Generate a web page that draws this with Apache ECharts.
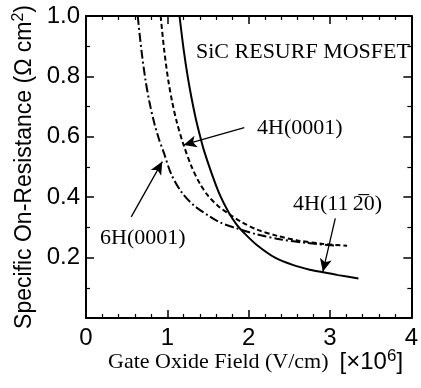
<!DOCTYPE html>
<html>
<head>
<meta charset="utf-8">
<script src="https://cdn.jsdelivr.net/npm/echarts@6/dist/echarts.min.js"></script>
<style>
html,body{margin:0;padding:0;background:#fff;}
#chart{width:421px;height:388px;}
</style>
</head>
<body>
<div id="chart"></div>
<script>
// gate oxide field [x1e6 V/cm] vs specific on-resistance [ohm cm2]
var field4H1120 = [1.15,1.20,1.25,1.30,1.35,1.40,1.45,1.55,1.65,1.75,1.85,1.95,2.10,2.33,2.55,2.75,2.90,3.10,3.35];
var ron4H1120   = [1.00,0.89,0.80,0.725,0.66,0.605,0.555,0.475,0.405,0.352,0.31,0.28,0.242,0.199,0.175,0.16,0.152,0.142,0.131];

var field4H0001 = [0.918,0.96,1.01,1.06,1.12,1.20,1.30,1.40,1.50,1.62,1.75,1.90,2.10,2.35,2.60,2.90,3.21];
var ron4H0001   = [1.00,0.89,0.79,0.715,0.645,0.573,0.50,0.445,0.405,0.372,0.346,0.32,0.293,0.272,0.257,0.246,0.239];

var field6H0001 = [0.636,0.68,0.73,0.78,0.84,0.90,0.96,1.05,1.18,1.33,1.50,1.65,1.85,2.10,2.40,2.70,3.05];
var ron6H0001   = [1.00,0.89,0.79,0.715,0.645,0.59,0.545,0.475,0.415,0.372,0.34,0.316,0.297,0.277,0.26,0.249,0.240];

var xTickLabels = ['0','1','2','3','4'];
var yTickLabels = ['','0.2','0.4','0.6','0.8','1.0'];

function pairs(xs,ys){
    var out = [];
    for(var i=0;i<xs.length;i++){ out.push([xs[i],ys[i]]); }
    return out;
}

var serif = '"Liberation Serif","DejaVu Serif",serif';
var sans  = '"Liberation Sans",Arial,sans-serif';

var axisBase = function(pos,showLabel,isX){
    return {
        type:'value',
        position:pos,
        min:0,
        max:isX ? 4 : 1,
        interval:isX ? 1 : 0.2,
        axisLine:{show:true,onZero:false,lineStyle:{color:'#000',width:2}},
        axisTick:{show:true,inside:true,length:8,lineStyle:{color:'#000',width:1.5}},
        minorTick:{show:true,splitNumber:isX ? 5 : 2,length:4,lineStyle:{color:'#000',width:1.2}},
        splitLine:{show:false},
        minorSplitLine:{show:false},
        axisLabel:{
            show:showLabel,
            color:'#000',
            fontSize:24,
            fontFamily:sans,
            margin:isX ? 8 : 6,
            formatter:function(v){
                if(isX){ return xTickLabels[Math.round(v)]; }
                return yTickLabels[Math.round(v*5)];
            }
        }
    };
};

var xBottom = axisBase('bottom',true,true);
var xTop    = axisBase('top',false,true);
var yLeft   = axisBase('left',true,false);
var yRight  = axisBase('right',false,false);

yLeft.name = '{a|Specific On-Resistance (\u03A9 cm}{s|2}{a|)}';
yLeft.nameLocation = 'middle';
yLeft.nameGap = 46;
yLeft.nameTextStyle = {
    rich:{
        a:{fontSize:23,fontFamily:sans,color:'#000'},
        s:{fontSize:16,fontFamily:sans,color:'#000',padding:[0,0,12,0]}
    }
};

var arrowStyle = {color:'#000',width:1.3,type:'solid'};

var chart = echarts.init(document.getElementById('chart'));
var option = {
    animation:false,
    grid:{left:86,right:4,top:16,bottom:70,containLabel:false},
    xAxis:[xBottom,xTop],
    yAxis:[yLeft,yRight],
    series:[
        {
            name:'4H(11-20)',
            type:'line',
            data:pairs(field4H1120,ron4H1120),
            smooth:0.3,
            showSymbol:false,
            lineStyle:{color:'#000',width:2,type:'solid'},
            markLine:{
                silent:true,
                symbol:['none','arrow'],
                symbolSize:[9,13],
                label:{show:false},
                lineStyle:arrowStyle,
                data:[
                    [{coord:[1.946,0.630]},{coord:[1.20,0.573]}],
                    [{coord:[0.556,0.335]},{coord:[0.938,0.518]}],
                    [{coord:[3.065,0.330]},{coord:[2.912,0.153]}]
                ]
            }
        },
        {
            name:'4H(0001)',
            type:'line',
            data:pairs(field4H0001,ron4H0001),
            smooth:0.3,
            showSymbol:false,
            lineStyle:{color:'#000',width:2,type:[5,3]}
        },
        {
            name:'6H(0001)',
            type:'line',
            data:pairs(field6H0001,ron6H0001),
            smooth:0.3,
            showSymbol:false,
            lineStyle:{color:'#000',width:2,type:[9,3,2,3]}
        }
    ],
    graphic:[
        {type:'text',x:196,y:52,style:{text:'SiC RESURF MOSFET',fontSize:22,fontFamily:serif,fill:'#000',verticalAlign:'middle'}},
        {type:'text',x:257,y:128,style:{text:'4H(0001)',fontSize:22,fontFamily:serif,fill:'#000',verticalAlign:'middle'}},
        {type:'text',x:293,y:204,style:{text:'4H(11\u20092\u03050)',fontSize:22,fontFamily:serif,fill:'#000',verticalAlign:'middle'}},
        {type:'text',x:100,y:238,style:{text:'6H(0001)',fontSize:22,fontFamily:serif,fill:'#000',verticalAlign:'middle'}},
        {type:'text',x:108,y:362,style:{
            text:'{a|Gate Oxide Field (V/cm)  }{b|[\u00D710}{s|6}{b|]}',
            verticalAlign:'middle',
            rich:{
                a:{fontSize:22,fontFamily:serif,fill:'#000'},
                b:{fontSize:24,fontFamily:sans,fill:'#000'},
                s:{fontSize:17,fontFamily:sans,fill:'#000',padding:[0,0,12,0]}
            }
        }}
    ]
};
chart.setOption(option);
</script>
</body>
</html>
